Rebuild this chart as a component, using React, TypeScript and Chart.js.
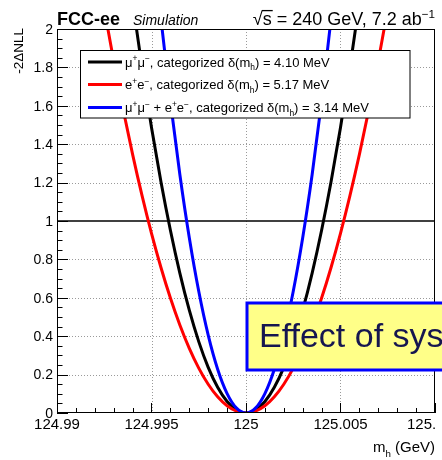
import { useEffect, useRef } from 'react';
import { Chart, registerables } from 'chart.js';

Chart.register(...registerables);

// ---- data ----
const massOffsetsMeV = [-8, -7.5, -7, -6.5, -6, -5.5, -5, -4.5, -4, -3.5, -3, -2.5, -2, -1.5, -1, -0.5, 0, 0.5, 1, 1.5, 2, 2.5, 3, 3.5, 4, 4.5, 5, 5.5, 6, 6.5, 7, 7.5, 8];
const nllMuMu = [3.8073, 3.3462, 2.9149, 2.5134, 2.1416, 1.7995, 1.4872, 1.2046, 0.9518, 0.7287, 0.5354, 0.3718, 0.238, 0.1338, 0.0595, 0.0149, 0, 0.0149, 0.0595, 0.1338, 0.238, 0.3718, 0.5354, 0.7287, 0.9518, 1.2046, 1.4872, 1.7995, 2.1416, 2.5134, 2.9149, 3.3462, 3.8073];
const nllEE = [2.3944, 2.1044, 1.8332, 1.5807, 1.3469, 1.1317, 0.9353, 0.7576, 0.5986, 0.4583, 0.3367, 0.2338, 0.1497, 0.0842, 0.0374, 0.0094, 0, 0.0094, 0.0374, 0.0842, 0.1497, 0.2338, 0.3367, 0.4583, 0.5986, 0.7576, 0.9353, 1.1317, 1.3469, 1.5807, 1.8332, 2.1044, 2.3944];
const nllComb = [6.491, 5.705, 4.9697, 4.2852, 3.6513, 3.0681, 2.5356, 2.0538, 1.6223, 1.2425, 0.9128, 0.6339, 0.4057, 0.2282, 0.1014, 0.0254, 0, 0.0254, 0.1014, 0.2282, 0.4057, 0.6339, 0.9128, 1.2425, 1.6223, 2.0538, 2.5356, 3.0681, 3.6513, 4.2852, 4.9697, 5.705, 6.491];
const centralMass = 125;

const xTickValues = [124.99, 124.995, 125, 125.005, 125.01];
const xTickLabels = ['124.99', '124.995', '125', '125.005', '125.'];
const yTickValues = [0, 0.2, 0.4, 0.6, 0.8, 1, 1.2, 1.4, 1.6, 1.8, 2];
const yTickLabels = ['0', '0.2', '0.4', '0.6', '0.8', '1', '1.2', '1.4', '1.6', '1.8', '2'];

const legendUncertainties = ['4.10', '5.17', '3.14'];
const experimentLabel = 'FCC-ee';
const statusLabel = 'Simulation';
const energyLabel = ' = 240 GeV, 7.2 ab';
const yTitle = '-2\u0394NLL';
const overlayText = 'Effect of sys';

const FONT = '"Liberation Sans", Arial, Helvetica, sans-serif';

type Seg = { t: string; s?: 'sup' | 'sub'; over?: boolean };

function segFont(size: number, seg: Seg, style: string) {
  const sz = seg.s ? size * 0.65 : size;
  return `${style} ${sz}px ${FONT}`;
}

function richWidth(ctx: CanvasRenderingContext2D, segs: Seg[], size: number, style: string) {
  let w = 0;
  for (const s of segs) {
    ctx.font = segFont(size, s, style);
    w += ctx.measureText(s.t).width;
  }
  return w;
}

function drawRich(ctx: CanvasRenderingContext2D, segs: Seg[], x: number, y: number, size: number, style: string, align: 'left' | 'right') {
  const w = richWidth(ctx, segs, size, style);
  let cx = align === 'right' ? x - w : x;
  ctx.textAlign = 'left';
  ctx.textBaseline = 'alphabetic';
  for (const s of segs) {
    ctx.font = segFont(size, s, style);
    const dy = s.s === 'sup' ? -size * 0.4 : s.s === 'sub' ? size * 0.3 : 0;
    ctx.fillText(s.t, cx, y + dy);
    const sw = ctx.measureText(s.t).width;
    if (s.over) {
      ctx.save();
      ctx.strokeStyle = ctx.fillStyle as string;
      ctx.lineWidth = 1.3;
      ctx.beginPath();
      ctx.moveTo(cx - 1, y - size * 0.8);
      ctx.lineTo(cx + sw + 1, y - size * 0.8);
      ctx.stroke();
      ctx.restore();
    }
    cx += sw;
  }
}

const legendRows: { color: string; segs: Seg[] }[] = [
  {
    color: '#000000',
    segs: [{ t: '\u03bc' }, { t: '+', s: 'sup' }, { t: '\u03bc' }, { t: '\u2212', s: 'sup' }, { t: ', categorized \u03b4(m' }, { t: 'h', s: 'sub' }, { t: `) = ${legendUncertainties[0]} MeV` }],
  },
  {
    color: '#ff0000',
    segs: [{ t: 'e' }, { t: '+', s: 'sup' }, { t: 'e' }, { t: '\u2212', s: 'sup' }, { t: ', categorized \u03b4(m' }, { t: 'h', s: 'sub' }, { t: `) = ${legendUncertainties[1]} MeV` }],
  },
  {
    color: '#0000ff',
    segs: [{ t: '\u03bc' }, { t: '+', s: 'sup' }, { t: '\u03bc' }, { t: '\u2212', s: 'sup' }, { t: ' + e' }, { t: '+', s: 'sup' }, { t: 'e' }, { t: '\u2212', s: 'sup' }, { t: ', categorized \u03b4(m' }, { t: 'h', s: 'sub' }, { t: `) = ${legendUncertainties[2]} MeV` }],
  },
];

const rootStyle = {
  id: 'rootStyle',
  beforeDatasetsDraw(chart: any) {
    const { ctx, chartArea: a, scales } = chart;
    const xs = scales.x;
    const ys = scales.y;
    ctx.save();
    ctx.strokeStyle = '#9a9a9a';
    ctx.lineWidth = 1;
    ctx.setLineDash([1, 2]);
    for (const v of xTickValues.slice(1, -1)) {
      const px = Math.round(xs.getPixelForValue(v)) + 0.5;
      ctx.beginPath();
      ctx.moveTo(px, a.top);
      ctx.lineTo(px, a.bottom);
      ctx.stroke();
    }
    for (const v of yTickValues.slice(1, -1)) {
      if (v === 1) continue;
      const py = Math.round(ys.getPixelForValue(v)) + 0.5;
      ctx.beginPath();
      ctx.moveTo(a.left, py);
      ctx.lineTo(a.right, py);
      ctx.stroke();
    }
    ctx.setLineDash([]);
    ctx.strokeStyle = '#000';
    ctx.lineWidth = 1.5;
    const p1 = ys.getPixelForValue(1);
    ctx.beginPath();
    ctx.moveTo(a.left, p1);
    ctx.lineTo(a.right, p1);
    ctx.stroke();
    ctx.restore();
  },
  afterDatasetsDraw(chart: any) {
    const { ctx, chartArea: a, scales } = chart;
    const xs = scales.x;
    const ys = scales.y;
    ctx.save();
    // frame
    ctx.strokeStyle = '#000';
    ctx.lineWidth = 1;
    ctx.strokeRect(a.left + 0.5, a.top + 0.5, a.right - a.left - 1, a.bottom - a.top - 1);
    // x ticks
    ctx.beginPath();
    for (let i = 0; i <= 20; i++) {
      const v = 124.99 + i * 0.001;
      const px = Math.round(xs.getPixelForValue(v)) + 0.5;
      const len = i % 5 === 0 ? 10 : 5;
      ctx.moveTo(px, a.bottom);
      ctx.lineTo(px, a.bottom - len);
    }
    // y ticks
    for (let i = 0; i <= 40; i++) {
      const v = i * 0.05;
      const py = Math.round(ys.getPixelForValue(v)) + 0.5;
      const len = i % 4 === 0 ? 11 : 5.5;
      ctx.moveTo(a.left, py);
      ctx.lineTo(a.left + len, py);
    }
    ctx.stroke();

    // tick labels
    ctx.fillStyle = '#000';
    ctx.font = `15px ${FONT}`;
    ctx.textBaseline = 'alphabetic';
    xTickValues.forEach((v, i) => {
      const px = xs.getPixelForValue(v);
      if (i === xTickValues.length - 1) {
        ctx.textAlign = 'left';
        ctx.fillText(xTickLabels[i], px - 28, a.bottom + 16);
      } else {
        ctx.textAlign = 'center';
        ctx.fillText(xTickLabels[i], px, a.bottom + 16);
      }
    });
    ctx.font = `14px ${FONT}`;
    ctx.textAlign = 'right';
    ctx.textBaseline = 'middle';
    yTickValues.forEach((v, i) => {
      const py = ys.getPixelForValue(v);
      ctx.fillText(yTickLabels[i], a.left - 4, py + 1);
    });

    // axis titles
    drawRich(ctx, [{ t: 'm' }, { t: 'h', s: 'sub' }, { t: ' (GeV)' }], a.right, a.bottom + 39, 15, 'normal', 'right');
    ctx.save();
    ctx.translate(23, a.top - 1);
    ctx.rotate(-Math.PI / 2);
    ctx.font = `13.5px ${FONT}`;
    ctx.textAlign = 'right';
    ctx.textBaseline = 'alphabetic';
    ctx.fillText(yTitle, 0, 0);
    ctx.restore();

    // header
    ctx.textBaseline = 'alphabetic';
    ctx.textAlign = 'left';
    ctx.font = `bold 18px ${FONT}`;
    ctx.fillText(experimentLabel, a.left, 25);
    ctx.font = `italic 14px ${FONT}`;
    ctx.fillText(statusLabel, a.left + 76, 25);
    drawRich(ctx, [{ t: '\u221a' }, { t: 's', over: true }, { t: energyLabel }, { t: '\u22121', s: 'sup' }], a.right, 25, 18, 'normal', 'right');

    // legend
    ctx.fillStyle = '#fff';
    ctx.fillRect(80.5, 50.5, 329.5, 67.5);
    ctx.strokeStyle = '#000';
    ctx.lineWidth = 1;
    ctx.strokeRect(80.5, 50.5, 329.5, 67.5);
    const rowY = [62, 84.5, 107.5];
    legendRows.forEach((r, i) => {
      ctx.strokeStyle = r.color;
      ctx.lineWidth = 3;
      ctx.beginPath();
      ctx.moveTo(88, rowY[i]);
      ctx.lineTo(122, rowY[i]);
      ctx.stroke();
      ctx.fillStyle = '#000';
      drawRich(ctx, r.segs, 125, rowY[i] + 4.5, 13, 'normal', 'left');
    });

    // overlay box
    ctx.fillStyle = '#ffff88';
    ctx.fillRect(247, 303, 240, 67);
    ctx.strokeStyle = '#0000ff';
    ctx.lineWidth = 3;
    ctx.strokeRect(247, 303, 240, 67);
    ctx.fillStyle = '#161650';
    ctx.font = `34px ${FONT}`;
    ctx.textAlign = 'left';
    ctx.textBaseline = 'alphabetic';
    ctx.fillText(overlayText, 259, 347);
    ctx.restore();
  },
};

export default function App() {
  const ref = useRef<HTMLCanvasElement | null>(null);
  useEffect(() => {
    if (!ref.current) return;
    const mk = (vals: number[]) => massOffsetsMeV.map((d, i) => ({ x: centralMass + d / 1000, y: vals[i] }));
    const chart = new Chart(ref.current, {
      type: 'line',
      data: {
        datasets: [
          { label: 'comb', data: mk(nllComb), borderColor: '#0000ff', borderWidth: 3, pointRadius: 0, cubicInterpolationMode: 'monotone', fill: false },
          { label: 'ee', data: mk(nllEE), borderColor: '#ff0000', borderWidth: 3, pointRadius: 0, cubicInterpolationMode: 'monotone', fill: false },
          { label: 'mumu', data: mk(nllMuMu), borderColor: '#000000', borderWidth: 3, pointRadius: 0, cubicInterpolationMode: 'monotone', fill: false },
        ],
      },
      options: {
        animation: false,
        responsive: false,
        devicePixelRatio: 1,
        layout: { padding: { left: 57, right: 7, top: 29, bottom: 47 } },
        plugins: { legend: { display: false }, title: { display: false }, tooltip: { enabled: false } },
        scales: {
          x: { type: 'linear', min: 124.99, max: 125.01, display: false },
          y: { type: 'linear', min: 0, max: 2, display: false },
        },
      },
      plugins: [rootStyle],
    } as any);
    return () => chart.destroy();
  }, []);
  return (
    <div style={{ position: 'absolute', left: 0, top: 0, width: 442, height: 460, background: '#fff' }}>
      <canvas ref={ref} width={442} height={460} />
    </div>
  );
}
